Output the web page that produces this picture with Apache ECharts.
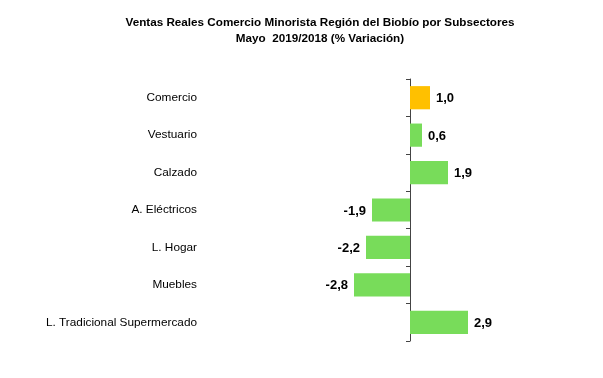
<!DOCTYPE html>
<html><head><meta charset="utf-8">
<script src="https://cdn.jsdelivr.net/npm/echarts@6/dist/echarts.min.js"></script>
<style>html,body{margin:0;padding:0;background:#fff}#c{width:603px;height:378px}</style>
</head><body><div id="c"></div>
<script>
const categories = ["Comercio","Vestuario","Calzado","A. Eléctricos","L. Hogar","Muebles","L. Tradicional Supermercado"];
const values = [1.0, 0.6, 1.9, -1.9, -2.2, -2.8, 2.9];
const barColors = ["#FFC000","#78DC5A","#78DC5A","#78DC5A","#78DC5A","#78DC5A","#78DC5A"];
const titleText = "Ventas Reales Comercio Minorista Región del Biobío por Subsectores\nMayo  2019/2018 (% Variación)";

const chart = echarts.init(document.getElementById('c'));
chart.setOption({
  animation:false,
  backgroundColor:'#fff',
  title:{text:titleText,left:315,textAlign:'center',top:10,
    textStyle:{fontFamily:'Liberation Sans, Arial',fontWeight:'bold',fontSize:11.7,color:'#000',lineHeight:16}},
  grid:{left:310,width:200,top:79,height:262,containLabel:false,outerBoundsMode:'none'},
  xAxis:{type:'value',min:-5,max:5,show:false},
  yAxis:{type:'category',inverse:true,data:categories,
    axisLine:{show:true,lineStyle:{color:'#444',width:1}},
    axisTick:{show:true,length:4,lineStyle:{color:'#444'}},
    axisLabel:{margin:113,fontFamily:'Liberation Sans, Arial',fontSize:11.8,color:'#000'}},
  series:[{type:'bar',barWidth:'62%',
    data:values.map((v,i)=>({value:v,itemStyle:{color:barColors[i]},
      label:{position:v>=0?'right':'left'}})),
    label:{show:true,distance:6,offset:[0,1],fontFamily:'Liberation Sans, Arial',fontWeight:'bold',fontSize:13,color:'#000',
      formatter:p=>p.value.toFixed(1).replace('.',',')}}]
});
</script></body></html>
